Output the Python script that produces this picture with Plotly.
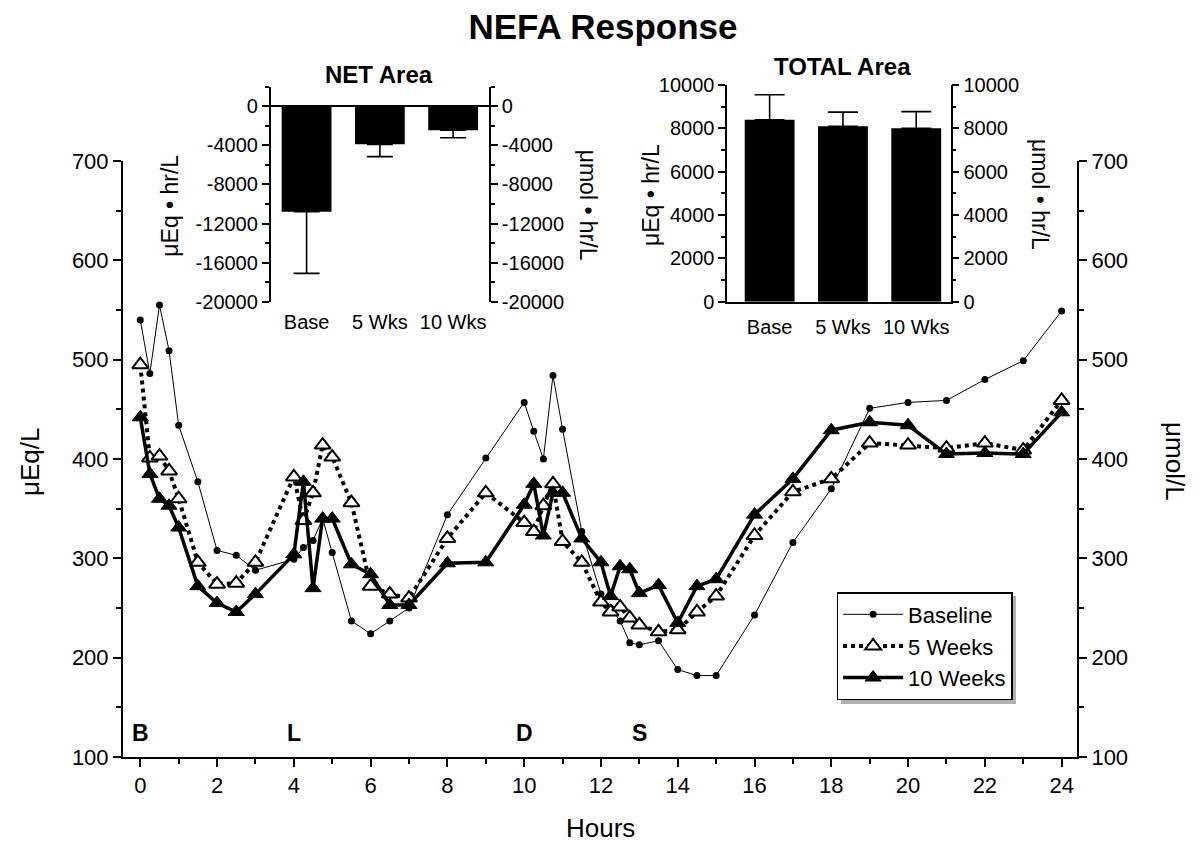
import plotly.graph_objects as go

# ---------------- data ----------------
hours = [0, 0.25, 0.5, 0.75, 1, 1.5, 2, 2.5, 3, 4, 4.25, 4.5, 4.75, 5, 5.5, 6, 6.5, 7, 8, 9,
         10, 10.25, 10.5, 10.75, 11, 11.5, 12, 12.25, 12.5, 12.75, 13, 13.5, 14, 14.5, 15,
         16, 17, 18, 19, 20, 21, 22, 23, 24]

baseline = [540, 486, 555, 509, 434, 377, 308, 303, 288, 299, 311, 318, 340, 306, 237, 224, 237, 250, 344, 401,
            457, 428, 400, 484, 430, 327, 264, 250, 237, 215, 213, 217, 188, 182, 182,
            243, 316, 370, 451, 457, 459, 480, 499, 549]

weeks5 = [495, 401, 403, 388, 360, 296, 274, 275, 296, 382, 338, 366, 414, 402, 356, 272, 264, 260, 320, 366,
          336, 327, 353, 375, 317, 296, 256, 246, 251, 240, 233, 226, 228, 246, 262,
          323, 367, 380, 416, 414, 411, 416, 409, 459]

weeks10 = [442, 385, 360, 353, 331, 272, 255, 246, 264, 304, 377, 270, 340, 340, 294, 284, 253, 253, 295, 296,
           354, 375, 323, 366, 366, 320, 296, 262, 292, 289, 265, 273, 235, 272, 279,
           344, 380, 429, 437, 434, 405, 406, 405, 447]

meal_labels = ["B", "L", "D", "S"]
meal_hours = [0, 4, 10, 13]

area_categories = ["Base", "5 Wks", "10 Wks"]
net_area = [-10800, -3900, -2450]
net_err = [6300, 1250, 780]
total_area = [8400, 8100, 8000]
total_err = [1150, 650, 770]

hour_ticks = list(range(0, 25, 2))
main_ticks = [100, 200, 300, 400, 500, 600, 700]
net_ticks = [0, -4000, -8000, -12000, -16000, -20000]
net_ticktext = ["0", "-4000", "-8000", "-12000", "-16000", "-20000"]
total_ticks = [0, 2000, 4000, 6000, 8000, 10000]
total_ticktext = ["0", "2000", "4000", "6000", "8000", "10000"]

FONT = "Liberation Sans, Arial, Helvetica, sans-serif"
BLACK = "black"

fig = go.Figure()

# main series
fig.add_trace(go.Scatter(
    x=hours, y=baseline, name="Baseline", mode="lines+markers",
    line=dict(color=BLACK, width=1),
    marker=dict(symbol="circle", size=7, color=BLACK),
    xaxis="x", yaxis="y"))
fig.add_trace(go.Scatter(
    x=hours, y=weeks5, name="5 Weeks", mode="lines+markers",
    line=dict(color=BLACK, width=4, dash="dot"),
    marker=dict(symbol="triangle-up", size=14, color="white", line=dict(color=BLACK, width=2)),
    xaxis="x", yaxis="y"))
fig.add_trace(go.Scatter(
    x=hours, y=weeks10, name="10 Weeks", mode="lines+markers",
    line=dict(color=BLACK, width=3.5),
    marker=dict(symbol="triangle-up", size=14, color=BLACK, line=dict(color=BLACK, width=1)),
    xaxis="x", yaxis="y"))

# dummy traces for mirrored right axes
fig.add_trace(go.Scatter(x=[None], y=[None], xaxis="x", yaxis="y5", showlegend=False, hoverinfo="skip"))
fig.add_trace(go.Scatter(x=[None], y=[None], xaxis="x2", yaxis="y6", showlegend=False, hoverinfo="skip"))
fig.add_trace(go.Scatter(x=[None], y=[None], xaxis="x3", yaxis="y7", showlegend=False, hoverinfo="skip"))

# inset bars
fig.add_trace(go.Bar(
    x=[0, 1, 2], y=net_area, width=0.68, marker=dict(color=BLACK, line=dict(width=0)),
    error_y=dict(type="data", symmetric=False, array=[0, 0, 0], arrayminus=net_err,
                 color=BLACK, thickness=1.6, width=13),
    xaxis="x2", yaxis="y2", showlegend=False))
fig.add_trace(go.Bar(
    x=[0, 1, 2], y=total_area, width=0.68, marker=dict(color=BLACK, line=dict(width=0)),
    error_y=dict(type="data", symmetric=False, array=total_err, arrayminus=[0, 0, 0],
                 color=BLACK, thickness=1.6, width=15),
    xaxis="x3", yaxis="y3", showlegend=False))

main_y_dom = [0, 0.8551]
inset_y_net = [0.6532, 0.9617]
inset_y_tot = [0.6532, 0.9641]

common_axis = dict(showgrid=False, zeroline=False, showline=True, linecolor=BLACK,
                   ticks="outside", tickcolor=BLACK)


def inset_y(ticks, text, rng, minor_dt, **kw):
    d = dict(range=rng, tickvals=ticks, ticktext=text,
             showgrid=False, showline=True, linecolor=BLACK, linewidth=1.6,
             ticks="outside", ticklen=7, tickwidth=1.6, tickcolor=BLACK,
             tickfont=dict(size=20),
             minor=dict(dtick=minor_dt, tick0=0, ticklen=4, tickwidth=1.6,
                        tickcolor=BLACK, ticks="outside"))
    d.update(kw)
    return d


fig.update_layout(
    width=1200, height=849,
    margin=dict(l=115, r=131, t=52, b=100),
    paper_bgcolor="white", plot_bgcolor="white",
    font=dict(family=FONT, color=BLACK),
    title=dict(text="<b>NEFA Response</b>", font=dict(size=35, family=FONT, color=BLACK),
               x=(603 - 8) / 1200, xanchor="center", y=1 - 6 / 849, yanchor="top"),
    barmode="overlay",
    xaxis=dict(domain=[0, 1], anchor="y", range=[-0.45, 24.4], tickvals=hour_ticks,
               ticklen=8, tickwidth=2, linewidth=2, tickfont=dict(size=22),
               minor=dict(dtick=1, tick0=0, ticklen=5, tickwidth=2, tickcolor=BLACK, ticks="outside"),
               **common_axis),
    yaxis=dict(domain=main_y_dom, anchor="x", range=[100, 700], tickvals=main_ticks,
               ticklen=8, tickwidth=2, linewidth=2, tickfont=dict(size=22),
               minor=dict(dtick=50, tick0=0, ticklen=5, tickwidth=2, tickcolor=BLACK, ticks="outside"),
               **common_axis),
    yaxis5=dict(overlaying="y", side="right", anchor="x", range=[100, 700], tickvals=main_ticks,
                ticklen=8, tickwidth=2, linewidth=2, tickfont=dict(size=22),
                minor=dict(dtick=50, tick0=0, ticklen=5, tickwidth=2, tickcolor=BLACK, ticks="outside"),
                **common_axis),
    # NET inset
    xaxis2=dict(domain=[0.1548, 0.3837], anchor="y2", range=[-0.49, 2.49],
                tickvals=[0, 1, 2], ticktext=area_categories, ticks="", showline=False,
                showgrid=False, zeroline=False, tickfont=dict(size=20), ticklabelstandoff=6),
    yaxis2=inset_y(net_ticks, net_ticktext, [-20000, 2000], 2000, domain=inset_y_net, anchor="x2",
                   zeroline=True, zerolinecolor=BLACK, zerolinewidth=1.6),
    yaxis6=inset_y(net_ticks, net_ticktext, [-20000, 2000], 2000, overlaying="y2", side="right",
                   anchor="x2", zeroline=False),
    # TOTAL inset
    xaxis3=dict(domain=[0.6334, 0.8676], anchor="y3", range=[-0.578, 2.47],
                tickvals=[0, 1, 2], ticktext=area_categories, ticks="", showline=True,
                linecolor=BLACK, linewidth=1.6,
                showgrid=False, zeroline=False, tickfont=dict(size=20), ticklabelstandoff=6),
    yaxis3=inset_y(total_ticks, total_ticktext, [0, 10000], 1000, domain=inset_y_tot, anchor="x3",
                   zeroline=False),
    yaxis7=inset_y(total_ticks, total_ticktext, [0, 10000], 1000, overlaying="y3", side="right",
                   anchor="x3", zeroline=False),
    legend=dict(x=0.748, y=0.2367, xanchor="left", yanchor="top",
                bgcolor="white", bordercolor=BLACK, borderwidth=1.5,
                font=dict(size=22, family=FONT, color=BLACK),
                itemwidth=60, tracegroupgap=0),
    showlegend=True,
)

# legend drop shadow
fig.add_shape(type="rect", xref="paper", yref="paper",
              x0=(841 - 123) / 954, x1=(1016 - 123) / 954,
              y0=(757 - 704) / 697, y1=(757 - 596) / 697,
              fillcolor="#b0b0b0", line=dict(width=0), layer="above")

annotations = []
# axis titles
annotations.append(dict(text="Hours", x=0.5, y=-0.1019, xref="paper", yref="paper",
                        showarrow=False, font=dict(size=26), xanchor="center", yanchor="middle"))
annotations.append(dict(text="μEq/L", x=-0.0975, y=0.4232, xref="paper", yref="paper",
                        showarrow=False, font=dict(size=26), textangle=-90,
                        xanchor="center", yanchor="middle"))
annotations.append(dict(text="μmol/L", x=1.1027, y=0.4232, xref="paper", yref="paper",
                        showarrow=False, font=dict(size=26), textangle=90,
                        xanchor="center", yanchor="middle"))
# inset titles
annotations.append(dict(text="<b>NET Area</b>", x=0.2683, y=0.9785, xref="paper", yref="paper",
                        showarrow=False, font=dict(size=24), xanchor="center", yanchor="middle"))
annotations.append(dict(text="<b>TOTAL Area</b>", x=0.7547, y=0.99, xref="paper", yref="paper",
                        showarrow=False, font=dict(size=24), xanchor="center", yanchor="middle"))
# inset axis titles
annotations.append(dict(text="μEq • hr/L", x=0.0493, y=0.791, xref="paper", yref="paper",
                        showarrow=False, font=dict(size=23), textangle=-90,
                        xanchor="center", yanchor="middle"))
annotations.append(dict(text="μmol • hr/L", x=0.4874, y=0.791, xref="paper", yref="paper",
                        showarrow=False, font=dict(size=23), textangle=90,
                        xanchor="center", yanchor="middle"))
annotations.append(dict(text="μEq • hr/L", x=0.5535, y=0.8063, xref="paper", yref="paper",
                        showarrow=False, font=dict(size=23), textangle=-90,
                        xanchor="center", yanchor="middle"))
annotations.append(dict(text="μmol • hr/L", x=0.9612, y=0.8063, xref="paper", yref="paper",
                        showarrow=False, font=dict(size=23), textangle=90,
                        xanchor="center", yanchor="middle"))
# meal markers
for lbl, h in zip(meal_labels, meal_hours):
    annotations.append(dict(text=f"<b>{lbl}</b>", x=h, y=124, xref="x", yref="y",
                            showarrow=False, font=dict(size=23), xanchor="center", yanchor="middle"))
fig.update_layout(annotations=annotations)

fig.write_html("out.html")
